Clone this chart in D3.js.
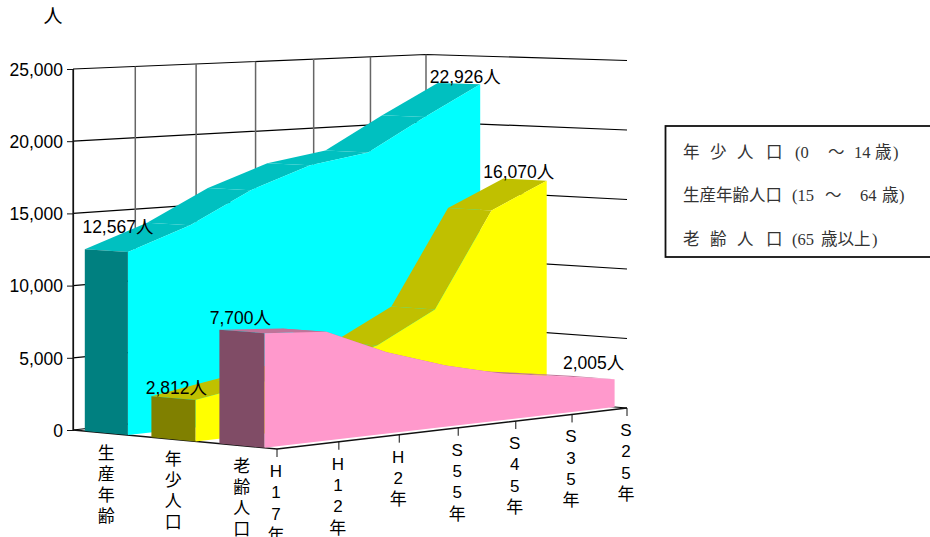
<!DOCTYPE html>
<html>
<head>
<meta charset="utf-8">
<script src="https://cdn.jsdelivr.net/npm/d3@7/dist/d3.min.js"></script>
<style>
html, body { margin: 0; padding: 0; background: #fff; overflow: hidden; }
svg text { font-family: "Liberation Sans", "Noto Sans CJK JP", sans-serif; fill: #000; }
</style>
</head>
<body>
<svg id="chart" width="930" height="537"></svg>
<script>
var years = ['H17年', 'H12年', 'H2年', 'S55年', 'S45年', 'S35年', 'S25年'];
var seriesNames = ['生産年齢', '年少人口', '老齢人口'];
var workingAge = [12567, 14100, 16250, 17750, 18400, 20750, 22926];
var youth = [2812, 3500, 4200, 5300, 7450, 14200, 16070];
var elderly = [7700, 7400, 5600, 4250, 3250, 2650, 2005];
var yTicks = [0, 5000, 10000, 15000, 20000, 25000];
var legendRows = [
  ['年', '少', '人', '口', '(0', '～', '14', '歳', ')'],
  ['生産年齢人口', '(15', '～', '64', '歳', ')'],
  ['老', '齢', '人', '口', '(65', '歳以上', ')']
];

var seriesValues = [workingAge, youth, elderly];
var topColors = ['#00c0c0', '#c0c000', '#c07399'];
var frontColors = ['#00ffff', '#ffff00', '#ff99cc'];
var sideColors = ['#008080', '#808000', '#804c66'];

var svg = d3.select('#chart');

// floor of the 3d box on screen: back left, back right, front right, front left
var A = [73, 430], D = [426, 391.5], C = [627, 408], B = [277, 449];

var sx = A[0] - D[0] + C[0] - B[0], sy = A[1] - D[1] + C[1] - B[1];
var dx1 = D[0] - C[0], dx2 = B[0] - C[0], dy1 = D[1] - C[1], dy2 = B[1] - C[1];
var det = dx1 * dy2 - dx2 * dy1;
var g1 = (sx * dy2 - dx2 * sy) / det;
var g2 = (dx1 * sy - sx * dy1) / det;

var timeScale = d3.scalePoint().domain(years).range([0, 1]);
var depthScale = d3.scaleBand().domain(seriesNames).range([0, 1]).paddingInner(0.35).paddingOuter(0.18);
var heightScale = d3.scaleLinear().domain([0, 25000]).range([0, 361]);

// u along the years, w from the back wall to the front, v the value
function project(u, w, v){
  var W = 1 + g1 * u + g2 * w;
  var x = (A[0] + (D[0] - A[0] + g1 * D[0]) * u + (B[0] - A[0] + g2 * B[0]) * w) / W;
  var y = (A[1] + (D[1] - A[1] + g1 * D[1]) * u + (B[1] - A[1] + g2 * B[1]) * w) / W;
  return [x, y - heightScale(v) / W];
}

function pts(list){
  return list.map(function(p){ return p[0].toFixed(1) + ',' + p[1].toFixed(1); }).join(' ');
}

// walls
var walls = svg.append('g');
yTicks.forEach(function(t){
  walls.append('polyline')
    .attr('points', pts([project(0, 0, t), project(1, 0, t), project(1, 1, t)]))
    .attr('fill', 'none')
    .attr('stroke', '#000')
    .attr('stroke-width', 1.2);
});
years.forEach(function(y){
  var u = timeScale(y);
  walls.append('line')
    .attr('x1', project(u, 0, 0)[0])
    .attr('y1', project(u, 0, 0)[1])
    .attr('x2', project(u, 0, 25000)[0])
    .attr('y2', project(u, 0, 25000)[1])
    .attr('stroke', u === 0 ? '#111' : '#666')
    .attr('stroke-width', u === 0 ? 1.2 : 1.5);
});

// floor axes
svg.append('polyline')
  .attr('points', pts([project(0, 0, 0), project(0, 1, 0), project(1, 1, 0)]))
  .attr('fill', 'none')
  .attr('stroke', '#111')
  .attr('stroke-width', 1.4);

// slabs, back one first
seriesNames.forEach(function(name, i){
  var values = seriesValues[i];
  var w0 = depthScale(name), w1 = w0 + depthScale.bandwidth();
  var g = svg.append('g').attr('class', 'slab');

  // top, one quad per interval
  g.selectAll('polygon.top')
    .data(d3.range(values.length - 1).reverse())
    .join('polygon')
    .attr('class', 'top')
    .attr('fill', topColors[i])
    .attr('points', function(k){
      var u0 = timeScale(years[k]), u1 = timeScale(years[k + 1]);
      return pts([project(u0, w0, values[k]), project(u1, w0, values[k + 1]),
                  project(u1, w1, values[k + 1]), project(u0, w1, values[k])]);
    });

  var front = values.map(function(v, k){ return project(timeScale(years[k]), w1, v); });
  front.push(project(1, w1, 0));
  front.push(project(0, w1, 0));
  g.append('polygon')
    .attr('fill', frontColors[i])
    .attr('points', pts(front));

  g.append('polygon')
    .attr('fill', sideColors[i])
    .attr('points', pts([project(0, w0, values[0]), project(0, w1, values[0]),
                         project(0, w1, 0), project(0, w0, 0)]));
});

// value axis
var yAxis = d3.axisLeft(d3.scaleLinear().domain([0, 25000]).range([430, 69]))
  .tickValues(yTicks)
  .tickFormat(d3.format(','))
  .tickSize(6)
  .tickPadding(4);
var yg = svg.append('g').attr('transform', 'translate(73,0)').call(yAxis);
yg.select('.domain').attr('stroke', '#111').attr('stroke-width', 1.2);
yg.selectAll('.tick line').attr('stroke', '#111');
yg.selectAll('.tick text')
  .style('font-size', '17.5px')
  .attr('dy', '0.36em');

svg.append('text')
  .attr('x', 53)
  .attr('y', 23)
  .attr('text-anchor', 'middle')
  .style('font-size', '19px')
  .text('人');

function verticalText(chars, x, y, step){
  var t = svg.append('text')
    .attr('text-anchor', 'middle')
    .style('font-size', '17px');
  chars.forEach(function(c, i){
    t.append('tspan')
      .attr('x', x)
      .attr('y', y + i * step + 6)
      .text(c);
  });
}

// year ticks and labels
years.forEach(function(y){
  var p = project(timeScale(y), 1, 0);
  svg.append('line')
    .attr('x1', p[0])
    .attr('y1', p[1])
    .attr('x2', p[0])
    .attr('y2', p[1] + 8)
    .attr('stroke', '#111');
  verticalText(y.split(''), p[0] - 1, p[1] + 22, 21.3);
});

// series labels under the side axis
seriesNames.forEach(function(name){
  var p = project(0, depthScale(name) + depthScale.bandwidth() / 2, 0);
  verticalText(name.split(''), p[0], p[1] + 20, 21);
});

// first and last value of each series
var labelOffsets = [[[-10, -19], [-15, -1]], [[-19, -6], [-28, -3]], [[-24, -9], [-21, -10]]];
seriesNames.forEach(function(name, i){
  var values = seriesValues[i];
  var w1 = depthScale(name) + depthScale.bandwidth();
  [0, values.length - 1].forEach(function(k, n){
    var p = project(timeScale(years[k]), w1, values[k]);
    svg.append('text')
      .attr('x', p[0] + labelOffsets[i][n][0])
      .attr('y', p[1] + labelOffsets[i][n][1])
      .attr('text-anchor', 'middle')
      .style('font-size', '17.5px')
      .text(d3.format(',')(values[k]) + '人');
  });
});

// legend box, runs off the right side of the page
var legend = svg.append('g');
legend.append('rect')
  .attr('x', 665.5)
  .attr('y', 126)
  .attr('width', 300)
  .attr('height', 131)
  .attr('fill', 'none')
  .attr('stroke', '#111')
  .attr('stroke-width', 1.8);
var legendY = [158, 201, 245];
var legendX = [
  [683, 710, 737, 766, 795, 828, 854, 875, 893],
  [683, 792, 825, 860, 882, 899],
  [683, 710, 737, 766, 792, 821, 872]
];
legendRows.forEach(function(row, i){
  legend.append('g').selectAll('text')
    .data(row)
    .join('text')
    .attr('x', function(d, k){ return legendX[i][k]; })
    .attr('y', legendY[i])
    .style('font-family', '"Liberation Serif", "Noto Sans CJK JP", serif')
    .style('font-size', '16.5px')
    .style('fill', '#333')
    .text(function(d){ return d; });
});
</script>
</body>
</html>
